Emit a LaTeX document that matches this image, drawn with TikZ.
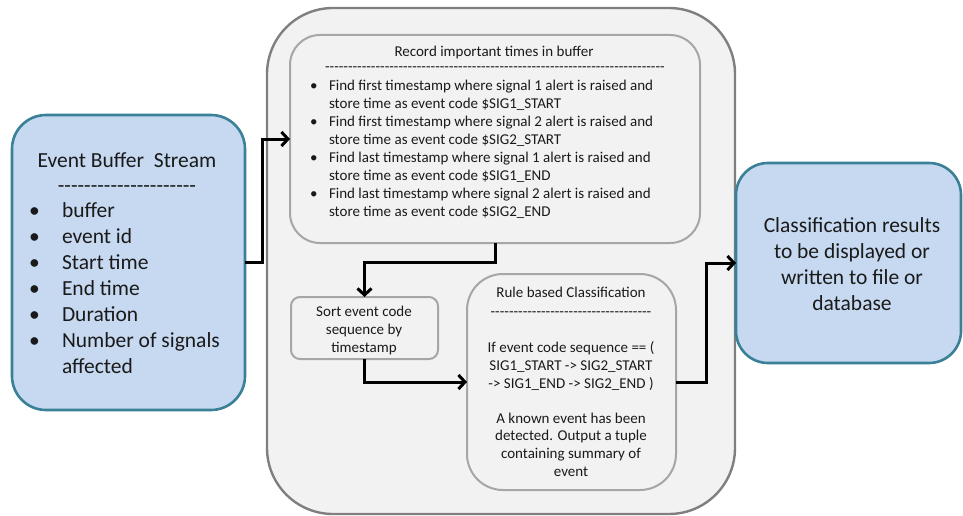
\documentclass[tikz,border=0pt]{standalone}
\usepackage{fontspec}
\setmainfont{Carlito}[Ligatures=TeXOff]
\usetikzlibrary{arrows.meta}

\definecolor{bluefill}{HTML}{C6D9F1}
\definecolor{tealedge}{HTML}{3A8096}
\definecolor{panel}{HTML}{F2F2F2}
\definecolor{outeredge}{HTML}{7F7F7F}
\definecolor{inneredge}{HTML}{A6A6A6}
\definecolor{ink}{HTML}{1A1A1A}

\begin{document}
\begin{tikzpicture}[x=1pt,y=-1pt,
  every node/.style={inner sep=0pt, outer sep=0pt, text=ink},
  bluebox/.style={draw=tealedge, fill=bluefill, line width=2.6pt, anchor=north west},
  outerbox/.style={draw=outeredge, fill=panel, line width=2.4pt, anchor=north west},
  innerbox/.style={draw=inneredge, fill=panel, line width=2pt, anchor=north west},
  bigtxt/.style={font=\fontsize{21.5}{26}\selectfont},
  smalltxt/.style={font=\fontsize{15}{18}\selectfont},
  conn/.style={draw=black, line width=3pt, -{Straight Barb[length=6.5pt,width=14pt]}}]
\useasboundingbox (0,0) rectangle (963,516);

% containers and process boxes
\node[outerbox, rounded corners=66pt, minimum width=468pt, minimum height=506pt] (proc) at (267,8) {};
\node[bluebox, rounded corners=34pt, minimum width=233pt, minimum height=295pt] (ebs) at (12,115) {};
\node[innerbox, rounded corners=30pt, minimum width=410pt, minimum height=208pt] (rec) at (290,35) {};
\node[innerbox, rounded corners=9pt, minimum width=147pt, minimum height=62pt] (sort) at (291,297) {};
\node[innerbox, rounded corners=36pt, minimum width=209pt, minimum height=216pt] (rule) at (467,274) {};
\node[bluebox, rounded corners=32pt, minimum width=225pt, minimum height=200pt] (res) at (736,163) {};

% event buffer stream contents
\node[bigtxt, anchor=base] (ebsT) at (127,167) {Event Buffer\ \ Stream};
\node[bigtxt, anchor=base] (ebsD) at (127,192) {---------------------};
\foreach \t [count=\i] in {buffer, event id, Start time, End time, Duration, Number of signals, affected}{
  \node[bigtxt, anchor=base west] (ebsL\i) at (62,{217+26*(\i-1)}) {\t};
}
\foreach \i in {1,...,6}{
  \node[bigtxt, anchor=base west] (ebsB\i) at (29,{217+26*(\i-1)}) {\textbullet};
}

% record step contents
\node[smalltxt, anchor=base] (recT) at (494,57) {Record important times in buffer};
\node[smalltxt, anchor=base] (recD) at (495,72) {--------------------------------------------------------------------------};
\foreach \t [count=\i] in {
  Find first timestamp where signal 1 alert is raised and,
  store time as event code \$SIG1\_START,
  Find first timestamp where signal 2 alert is raised and,
  store time as event code \$SIG2\_START,
  Find last timestamp where signal 1 alert is raised and,
  store time as event code \$SIG1\_END,
  Find last timestamp where signal 2 alert is raised and,
  store time as event code \$SIG2\_END}{
  \node[smalltxt, anchor=base west] (recL\i) at (329,{91+17.86*(\i-1)}) {\t};
}
\foreach \i in {0,1,2,3}{
  \node[smalltxt, anchor=base west] (recB\i) at (310,{91+35.72*\i}) {\textbullet};
}

% sort step contents
\foreach \t [count=\i] in {Sort event code, sequence by, timestamp}{
  \node[smalltxt, anchor=base] (sortL\i) at (364,{316+18*(\i-1)}) {\t};
}

% classification rule contents
\node[smalltxt, anchor=base] (ruleT) at (571,297) {Rule based Classification};
\node[smalltxt, anchor=base] (ruleD) at (571,316) {-----------------------------------};
\foreach \t [count=\i] in {If event code sequence == (, SIG1\_START -> SIG2\_START, -> SIG1\_END -> SIG2\_END )}{
  \node[smalltxt, anchor=base] (ruleR\i) at (571,{352+18*(\i-1)}) {\t};
}
\foreach \t [count=\i] in {A known event has been, detected. Output a tuple, containing summary of, event}{
  \node[smalltxt, anchor=base] (ruleO\i) at (571,{423+17.7*(\i-1)}) {\t};
}

% result contents
\foreach \t [count=\i] in {Classification results, to be displayed or, written to file or, database}{
  \node[bigtxt, anchor=base] (resL\i) at (852,{232+26*(\i-1)}) {\t};
}

% connectors
\draw[conn] (ebs.east) -- ++(17,0) |- (rec.west);
\draw[conn] (rec.south) -- ++(0,19) -| (sort.north);
\draw[conn] (sort.south) |- (rule.west);
\draw[conn] (rule.east) -- ++(30,0) |- (res.west);
\end{tikzpicture}
\end{document}
